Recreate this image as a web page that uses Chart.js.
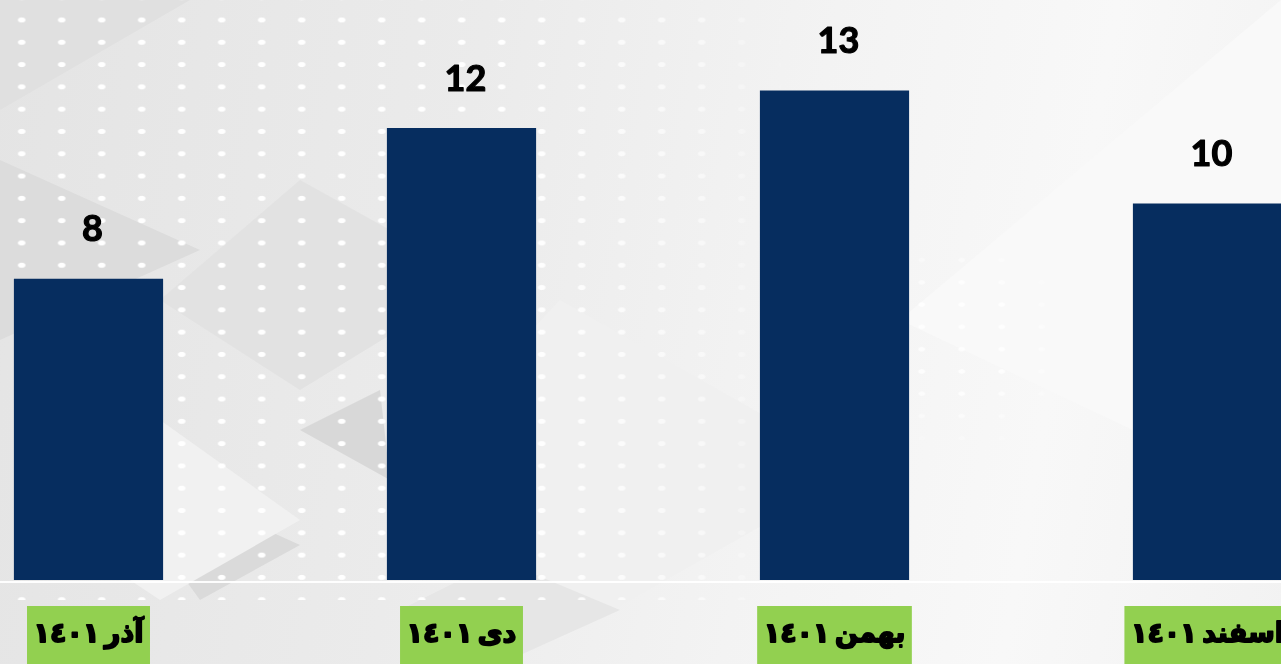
<!DOCTYPE html>
<html>
<head>
<meta charset="utf-8">
<script src="https://cdn.jsdelivr.net/npm/chart.js@4.4.1/dist/chart.umd.min.js"></script>
<style>
  html, body { margin: 0; padding: 0; overflow: hidden; }
  #stage {
    position: relative; width: 1281px; height: 664px; overflow: hidden;
    background: linear-gradient(100deg, #e4e4e4 0%, #ebebeb 35%, #f3f3f3 60%, #f8f8f8 80%, #f2f2f2 100%);
  }
  .tri { position: absolute; inset: 0; }
  #dots {
    position: absolute; left: 0; top: 0; width: 1281px; height: 600px;
    background-image: radial-gradient(ellipse 4.5px 3px at 50% 50%, rgba(255,255,255,1) 70%, rgba(255,255,255,0) 100%);
    background-size: 40px 22.3px;
    background-position: 1.7px 8.85px;
    -webkit-mask-image: linear-gradient(to right, #000 0%, #000 40%, rgba(0,0,0,0.5) 55%, rgba(0,0,0,0) 62%);
    mask-image: linear-gradient(to right, #000 0%, #000 40%, rgba(0,0,0,0.5) 55%, rgba(0,0,0,0) 62%);
  }
  #dots2 {
    position: absolute; left: 900px; top: 240px; width: 200px; height: 200px;
    background-image: radial-gradient(ellipse 4px 2.6px at 50% 50%, rgba(255,255,255,0.8) 70%, rgba(255,255,255,0) 100%);
    background-size: 40px 22.3px;
    background-position: 1.7px 8.85px;
    -webkit-mask-image: radial-gradient(circle at 30% 50%, #000 30%, rgba(0,0,0,0) 70%);
    mask-image: radial-gradient(circle at 30% 50%, #000 30%, rgba(0,0,0,0) 70%);
  }
  canvas { position: absolute; left: -98px; top: 0; }
</style>
</head>
<body>
<div id="stage">
  <!-- formes grises du fond -->
  <div class="tri" style="background:#dcdcdc; clip-path: polygon(0 160px, 200px 250px, 0 340px);"></div>
  <div class="tri" style="background:#e0e0e0; clip-path: polygon(0 0, 190px 0, 0 110px);"></div>
  <div class="tri" style="background:#d8d8d8; clip-path: polygon(300px 430px, 380px 390px, 390px 480px);"></div>
  <div class="tri" style="background:#dadada; clip-path: polygon(160px 545px, 200px 500px, 300px 545px, 200px 600px);"></div>
  <div class="tri" style="background:#e2e2e2; clip-path: polygon(300px 180px, 480px 280px, 300px 390px, 160px 300px);"></div>
  <div class="tri" style="background:#f1f1f1; clip-path: polygon(160px 420px, 300px 520px, 160px 600px, 40px 520px);"></div>
  <div class="tri" style="background:#f0f0f0; clip-path: polygon(560px 300px, 860px 470px, 560px 640px, 400px 470px);"></div>
  <div class="tri" style="background:#f9f9f9; clip-path: polygon(1281px 0, 1281px 500px, 900px 320px);"></div>
  <div class="tri" style="background:#e6e6e6; clip-path: polygon(500px 560px, 620px 610px, 500px 664px, 400px 610px);"></div>
  <div id="dots"></div>
  <div id="dots2"></div>
  <canvas id="chart" width="1492" height="664"></canvas>
</div>
<script>
// mois (libellés) et valeurs
const mois = ['آذر ١٤٠١', 'دی ١٤٠١', 'بهمن ١٤٠١', 'اسفند ١٤٠١'];
const valeurs = [8, 12, 13, 10];

const couleurBarre = '#062d5f';
const couleurBoite = '#92d050';

// plugin pour les étiquettes de valeur, la ligne de base et les boîtes vertes
const etiquettes = {
  id: 'etiquettes',
  beforeDatasetsDraw(chart) {
    const { ctx, chartArea } = chart;
    ctx.save();
    ctx.strokeStyle = 'rgba(255,255,255,0.95)';
    ctx.lineWidth = 2;
    ctx.beginPath();
    ctx.moveTo(0, chartArea.bottom + 2);
    ctx.lineTo(chart.width, chartArea.bottom + 2);
    ctx.stroke();
    ctx.restore();
  },
  afterDatasetsDraw(chart) {
    const { ctx, chartArea } = chart;
    const meta = chart.getDatasetMeta(0);
    const xScale = chart.scales.x;
    ctx.save();
    // valeurs au-dessus des barres
    ctx.fillStyle = '#000';
    ctx.strokeStyle = '#000';
    ctx.lineJoin = 'round';
    ctx.font = 'bold 36px "Lato", sans-serif';
    ctx.textAlign = 'center';
    ctx.textBaseline = 'middle';
    ctx.lineWidth = 1.2;
    meta.data.forEach((bar, i) => {
      ctx.fillText(String(valeurs[i]), bar.x + 4, bar.y - 49);
      ctx.strokeText(String(valeurs[i]), bar.x + 4, bar.y - 49);
    });
    // boîtes vertes sous l'axe
    ctx.font = 'bold 27px "DejaVu Sans", sans-serif';
    ctx.direction = 'rtl';
    ctx.wordSpacing = '-4px';
    ctx.lineWidth = 1.8;
    mois.forEach((m, i) => {
      const x = xScale.getPixelForValue(i);
      const w = ctx.measureText(m).width + 13;
      ctx.fillStyle = couleurBoite;
      ctx.fillRect(x - w / 2, chartArea.bottom + 26, w, 62);
      ctx.fillStyle = '#000';
      ctx.fillText(m, x, chartArea.bottom + 55);
      ctx.strokeText(m, x, chartArea.bottom + 55);
    });
    ctx.restore();
  }
};

new Chart(document.getElementById('chart').getContext('2d'), {
  type: 'bar',
  data: {
    labels: mois,
    datasets: [{
      data: valeurs,
      backgroundColor: couleurBarre,
      borderWidth: 0,
      barPercentage: 0.4,
      categoryPercentage: 1.0
    }]
  },
  options: {
    responsive: false,
    animation: false,
    devicePixelRatio: 1,
    layout: { padding: { top: 0, bottom: 84, left: 0, right: 0 } },
    plugins: {
      legend: { display: false },
      tooltip: { enabled: false }
    },
    scales: {
      x: { display: false },
      y: { display: false, min: 0, max: 15.4 }
    }
  },
  plugins: [etiquettes]
});
</script>
</body>
</html>
